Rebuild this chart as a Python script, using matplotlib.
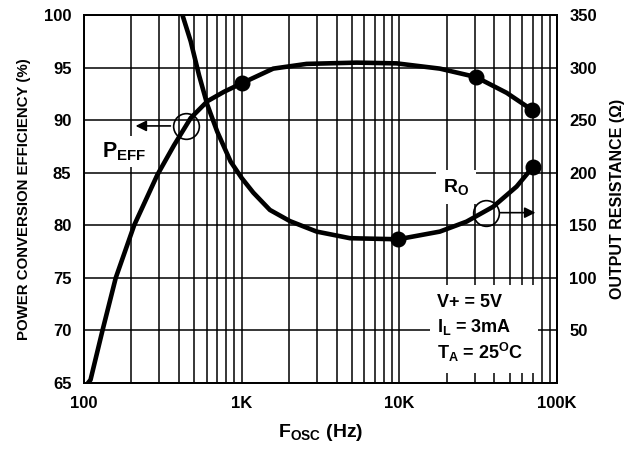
import matplotlib.pyplot as plt
from matplotlib.ticker import FixedLocator, NullFormatter, LogLocator
from matplotlib.patches import Rectangle

plt.rcParams['font.family'] = ['Liberation Sans', 'DejaVu Sans']
plt.rcParams['font.weight'] = 'bold'
plt.rcParams['axes.labelweight'] = 'bold'
plt.rcParams['mathtext.fontset'] = 'custom'
plt.rcParams['mathtext.rm'] = 'Liberation Sans:bold'
plt.rcParams['mathtext.it'] = 'Liberation Sans:bold'
plt.rcParams['mathtext.bf'] = 'Liberation Sans:bold'

# efficiency curve (Hz, %)
eff_freq = [106, 110, 131, 159, 208, 292, 372, 475, 606, 773, 1000,
            1585, 2580, 5360, 9610, 18070, 30600, 47900, 69000]
eff_val = [65.0, 65.3, 70.0, 75.0, 80.0, 84.8, 87.6, 90.2, 91.8, 92.7, 93.5,
           94.9, 95.35, 95.47, 95.4, 94.9, 94.1, 92.6, 91.0]
eff_mark_freq = [1000, 30600, 69000]
eff_mark_val = [93.5, 94.1, 91.0]

# output resistance curve (Hz, ohm)
ro_freq = [421, 475, 536, 606, 700, 851, 1000, 1186, 1510, 2022, 2990, 4870,
           9840, 18070, 26700, 39400, 55400, 70600]
ro_val = [350, 325, 293, 264.5, 239, 210.6, 195, 181, 164.6, 154, 144, 137.7,
          136.7, 144, 153.5, 167.7, 186.8, 205.8]
ro_mark_freq = [9840, 70600]
ro_mark_val = [136.7, 205.8]

x_ticks = [100, 1000, 10000, 100000]
x_labels = ['100', '1K', '10K', '100K']
left_ticks = [65, 70, 75, 80, 85, 90, 95, 100]
right_ticks = [50, 100, 150, 200, 250, 300, 350]

fig = plt.figure(figsize=(6.42, 4.51), dpi=100)
ax = fig.add_axes([84 / 642, (451 - 383) / 451, (557 - 84) / 642, (383 - 15) / 451])
ax2 = ax.twinx()

ax.set_xscale('log')
ax.set_xlim(100, 100000)
ax.set_ylim(65, 100)
ax2.set_ylim(0, 350)

ax.xaxis.set_major_locator(FixedLocator(x_ticks))
ax.set_xticklabels(x_labels)
ax.xaxis.set_minor_locator(LogLocator(base=10, subs=range(2, 10)))
ax.xaxis.set_minor_formatter(NullFormatter())
ax.set_yticks(left_ticks)
ax2.set_yticks(right_ticks)

for a in (ax, ax2):
    a.tick_params(which='both', length=0, labelsize=12, pad=9)
    for s in a.spines.values():
        s.set_linewidth(1.3)

ax.grid(True, which='both', axis='x', color='black', linewidth=1.1)
ax.grid(True, which='major', axis='y', color='black', linewidth=1.1)
ax.set_axisbelow(True)

ax.plot(eff_freq, eff_val, color='black', linewidth=3.3, solid_joinstyle='round', zorder=3)
ax.plot(eff_mark_freq, eff_mark_val, 'o', color='black', markersize=10.5, zorder=4)
ax2.plot(ro_freq, ro_val, color='black', linewidth=3.3, solid_joinstyle='round', zorder=3)
ax2.plot(ro_mark_freq, ro_mark_val, 'o', color='black', markersize=10.5, zorder=4)

# circles + arrows showing which axis each curve uses
ax.plot([441], [89.4], 'o', markersize=18.5, mfc='none', mec='black', mew=1.2, zorder=5)
ax.annotate('', xy=(204, 89.45), xytext=(368, 89.45),
            arrowprops=dict(arrowstyle='-|>', color='black', lw=1.2, mutation_scale=16), zorder=5)
ax2.plot([35400], [161.4], 'o', markersize=18.5, mfc='none', mec='black', mew=1.2, zorder=5)
ax2.annotate('', xy=(76000, 162), xytext=(42000, 162),
             arrowprops=dict(arrowstyle='-|>', color='black', lw=1.2, mutation_scale=16), zorder=5)

ax.text(180, 87.0, r'$\mathrm{P_{EFF}}$', fontsize=15.5, ha='center', va='center',
        bbox=dict(facecolor='white', edgecolor='none', pad=3), zorder=6)
ax2.text(23000, 186.8, r'$\mathrm{R_{O}}$', fontsize=14, ha='center', va='center',
         bbox=dict(facecolor='white', edgecolor='none', pad=5), zorder=6)

# conditions box
ax2.add_patch(Rectangle((15600, 9.5), 75700 - 15600, 93.2 - 9.5, facecolor='white',
                        edgecolor='none', zorder=5))
cond_lines = ['V+ = 5V', r'$\mathrm{I_L}$ = 3mA', r'$\mathrm{T_A}$ = 25$\mathrm{^{O}}$C']
cond_y = [77, 53.3, 29.5]
for line, yy in zip(cond_lines, cond_y):
    ax2.text(17300, yy, line, fontsize=13, ha='left', va='center', zorder=6)

ax.set_xlabel(r'$\mathrm{F_{OSC}}$ (Hz)', fontsize=14, labelpad=8)
ax.set_ylabel('POWER CONVERSION EFFICIENCY (%)', fontsize=10.8, labelpad=9)
ax2.set_ylabel('OUTPUT RESISTANCE (Ω)', fontsize=11.5, labelpad=9)

fig.savefig('out.png', dpi=100)
